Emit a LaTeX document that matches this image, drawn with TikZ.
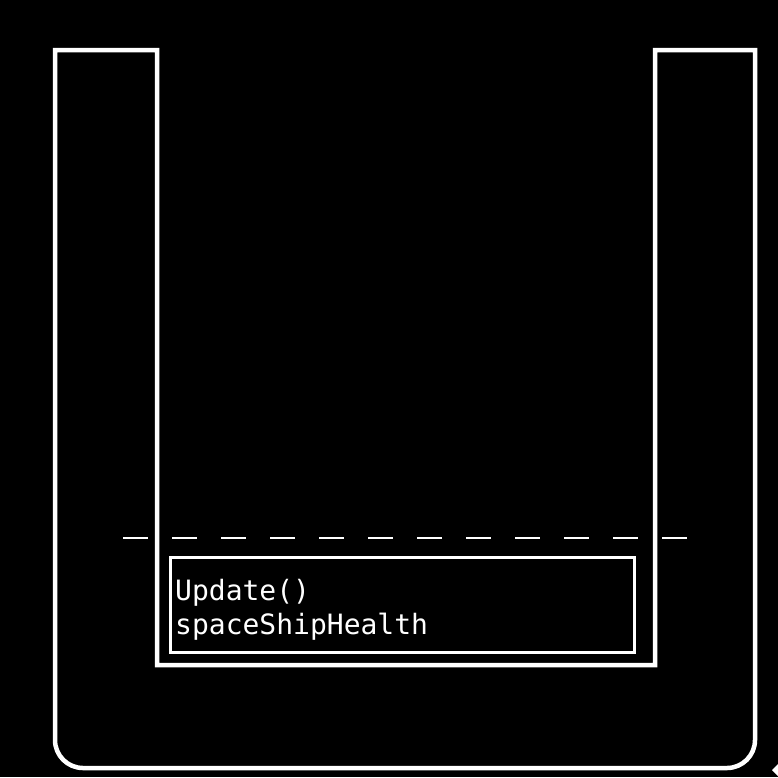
\documentclass[tikz,border=0pt]{standalone}
\usepackage{fontspec}
\newfontfamily\codefont{DejaVu Sans Mono}
\begin{document}
\begin{tikzpicture}[x=1pt,y=-1pt,
  outline/.style={draw=white,line width=4.5pt,line join=miter},
  innerbox/.style={draw=white,line width=3pt},
  dashline/.style={draw=white,line width=1.5pt,dash pattern=on 25pt off 24pt},
  code/.style={text=white,font=\codefont\fontsize{28}{34}\selectfont,inner sep=0pt,anchor=base west}]
\fill[black] (0,0) rectangle (778,777);
\useasboundingbox (0,0) rectangle (778,777);
% U-shaped container
\draw[outline] (157,50) -- (157,665) -- (655,665) -- (655,50) -- (755,50)
  [rounded corners=28pt] -- (755,768) -- (55,768) [sharp corners] -- (55,50) -- cycle;
% dashed line
\coordinate (dl) at (123,538);
\coordinate (dr) at (690,538);
\draw[dashline] (dl) -- (dr);
% inner box
\node[innerbox,minimum width=464pt,minimum height=95pt,inner sep=0pt] (box) at (402,604.5) {};
\node[code] (t1) at (175,600) {Update()};
\node[code] (t2) at (175,634) {spaceShipHealth};
% partial arrow tip at the corner
\fill[white] (772,770) -- (778,764) -- (778,776) -- cycle;
\end{tikzpicture}
\end{document}
